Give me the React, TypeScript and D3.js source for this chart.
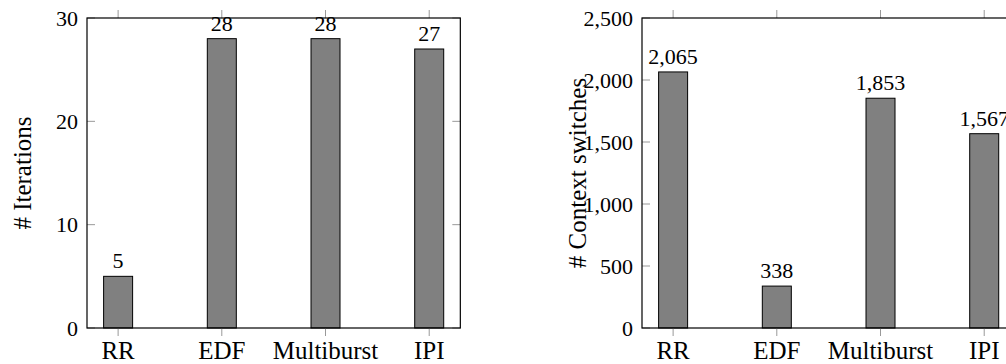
import React from "react";
import * as d3 from "d3";

const categories = ["RR", "EDF", "Multiburst", "IPI"];
const iterations = [5, 28, 28, 27];
const iterationTicks = [0, 10, 20, 30];
const switches = [2065, 338, 1853, 1567];
const switchTicks = [0, 500, 1000, 1500, 2000, 2500];

const FONT = "Liberation Serif, DejaVu Serif, serif";
const NUM_FS = 22;
const TXT_FS = 25;
const TICK = "#999";

type PanelProps = {
  left: number;
  values: number[];
  ticks: number[];
  yMax: number;
  label: string;
};

const Panel = ({ left, values, ticks, yMax, label }: PanelProps) => {
  const top = 18;
  const bottom = 328;
  const step = 103.7;
  const width = step * 3.6;

  // category positions with pgfplots-like padding on both sides
  const x = d3.scaleLinear().domain([-0.3, 3.3]).range([left, left + width]);
  const y = d3.scaleLinear().domain([0, yMax]).range([bottom, top]);
  const fmt = d3.format(",");
  const barW = 29;

  return (
    <g style={{ fontFamily: FONT, fontSize: NUM_FS }} fill="#000">
      {/* bars */}
      {values.map((v, i) => (
        <rect
          key={"b" + i}
          x={x(i) - barW / 2}
          y={y(v)}
          width={barW}
          height={bottom - y(v)}
          fill="#808080"
          stroke="#000"
          strokeWidth={1}
        />
      ))}
      {/* y ticks, inside on both sides */}
      {ticks.map((t) => (
        <g key={"y" + t}>
          <line x1={left} x2={left + 8} y1={y(t)} y2={y(t)} stroke={TICK} />
          <line x1={left + width - 8} x2={left + width} y1={y(t)} y2={y(t)} stroke={TICK} />
          <text x={left - 9} y={y(t)} dy="0.35em" textAnchor="end">
            {fmt(t)}
          </text>
        </g>
      ))}
      {/* x ticks, outside top and bottom */}
      {categories.map((c, i) => (
        <g key={"x" + c}>
          <line x1={x(i)} x2={x(i)} y1={top - 8} y2={top} stroke={TICK} />
          <line x1={x(i)} x2={x(i)} y1={bottom} y2={bottom + 8} stroke={TICK} />
          <text x={x(i)} y={bottom + 31} textAnchor="middle" style={{ fontSize: TXT_FS }}>
            {c}
          </text>
        </g>
      ))}
      {/* frame */}
      <rect x={left} y={top} width={width} height={bottom - top} fill="none" stroke="#000" strokeWidth={1.2} />
      {/* value labels */}
      {values.map((v, i) => (
        <text key={"v" + i} x={x(i)} y={y(v) - 8} textAnchor="middle">
          {fmt(v)}
        </text>
      ))}
      <text
        transform={`translate(${left - 65},${(top + bottom) / 2}) rotate(-90)`}
        textAnchor="middle"
        dy="0.35em"
        style={{ fontSize: TXT_FS }}
      >
        {label}
      </text>
    </g>
  );
};

export default function App() {
  return (
    <svg
      width={1006}
      height={364}
      style={{ position: "absolute", left: 0, top: 0, background: "#fff" }}
    >
      <Panel left={87} values={iterations} ticks={iterationTicks} yMax={30} label="# Iterations" />
      <Panel left={642} values={switches} ticks={switchTicks} yMax={2500} label="# Context switches" />
    </svg>
  );
}
